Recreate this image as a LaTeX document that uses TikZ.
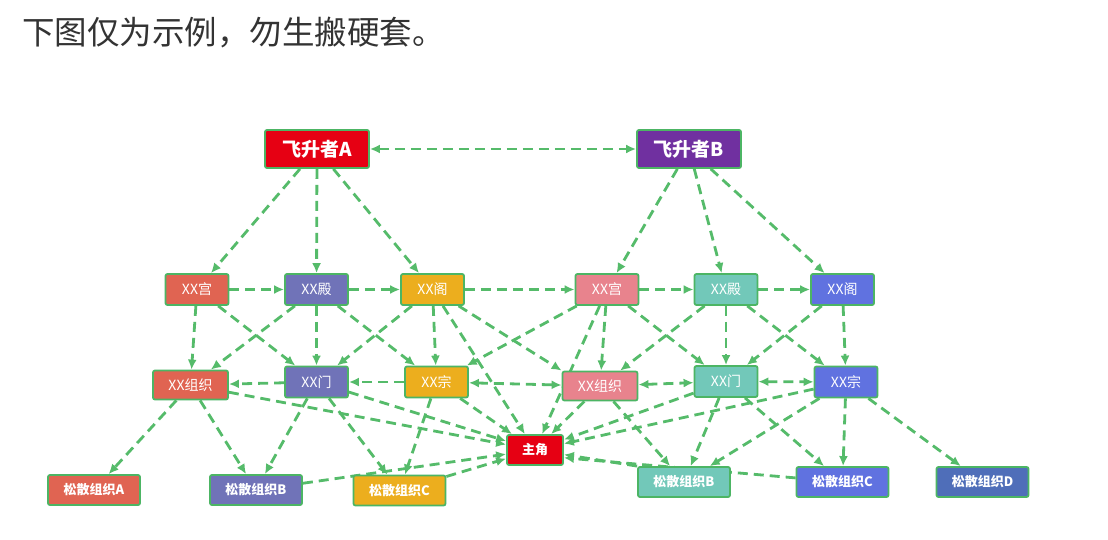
\documentclass[tikz,border=0pt]{standalone}
\usepackage{fontspec}
\setmainfont{Noto Sans CJK SC}
\usetikzlibrary{arrows.meta,backgrounds}

\definecolor{edgegreen}{HTML}{55BB6A}
\definecolor{rimgreen}{HTML}{4CB564}
\definecolor{ascred}{HTML}{E60013}
\definecolor{ascpurple}{HTML}{7030A0}
\definecolor{sectsalmon}{HTML}{E06452}
\definecolor{sectslate}{HTML}{7073B8}
\definecolor{sectamber}{HTML}{ECAE1E}
\definecolor{sectpink}{HTML}{E8838D}
\definecolor{sectteal}{HTML}{72C8B9}
\definecolor{sectblue}{HTML}{6072E0}
\definecolor{loosenavy}{HTML}{4F6EB9}
\definecolor{titlegray}{HTML}{333333}

\begin{document}
\begin{tikzpicture}[>={Latex[length=10pt,width=9pt]},x=1pt,y=-1pt,
                    link/.style={draw=edgegreen,line width=2.8pt,dash pattern=on 10pt off 6pt,->},
                    base node/.style={rectangle,draw=rimgreen,line width=1.8pt,rounded corners=2pt,text=white,inner sep=0pt},
                    top node/.style={base node,minimum width=104pt,minimum height=38pt,font=\fontsize{19}{22}\selectfont\bfseries},
                    sect node/.style={base node,minimum width=63pt,minimum height=31pt,font=\fontsize{14}{16}\selectfont},
                    org node/.style={base node,minimum width=75pt,minimum height=29pt,font=\fontsize{14}{16}\selectfont},
                    hero node/.style={base node,minimum width=56pt,minimum height=30pt,font=\fontsize{13}{15}\selectfont\bfseries},
                    loose node/.style={base node,minimum width=92pt,minimum height=30pt,font=\fontsize{13}{15}\selectfont\bfseries}]
      \useasboundingbox (0,0) rectangle (1108,540);
      \node[anchor=west,inner sep=0pt,text=titlegray,font=\fontsize{32.5}{38}\selectfont] (title) at (22,33) {下图仅为示例，勿生搬硬套。};
      % ascenders
      \node[top node, fill=ascred] (1) at (317,149) {飞升者A};
      \node[top node, fill=ascpurple] (2) at (689,149) {飞升者B};
      % upper sects
      \node[sect node, fill=sectsalmon] (3) at (197,289.5) {XX宫};
      \node[sect node, fill=sectslate] (4) at (316.5,289.5) {XX殿};
      \node[sect node, fill=sectamber] (5) at (432.5,289.5) {XX阁};
      \node[sect node, fill=sectpink] (6) at (607,289.5) {XX宫};
      \node[sect node, fill=sectteal] (7) at (726,289.5) {XX殿};
      \node[sect node, fill=sectblue] (8) at (842.5,289.5) {XX阁};
      % lower sects
      \node[org node, fill=sectsalmon] (9) at (190.5,385) {XX组织};
      \node[sect node, fill=sectslate] (10) at (316.5,382) {XX门};
      \node[sect node, fill=sectamber] (11) at (436.5,382) {XX宗};
      \node[org node, fill=sectpink] (12) at (600,386) {XX组织};
      \node[sect node, fill=sectteal] (13) at (726,381.5) {XX门};
      \node[sect node, fill=sectblue] (14) at (846,382) {XX宗};
      \node[hero node, fill=ascred] (15) at (535,450) {主角};
      % loose groups
      \node[loose node, fill=sectsalmon] (16) at (94,490) {松散组织A};
      \node[loose node, fill=sectslate] (17) at (256,490) {松散组织B};
      \node[loose node, fill=sectamber] (18) at (399.5,490.5) {松散组织C};
      \node[loose node, fill=sectteal] (19) at (684,482) {松散组织B};
      \node[loose node, fill=sectblue] (20) at (842.5,482) {松散组织C};
      \node[loose node, fill=loosenavy] (21) at (982.5,482) {松散组织D};
      \begin{pgfonlayer}{background}
      \fill[white] (0,0) rectangle (1108,540);
      \path[every edge/.style=link]
        (1) edge [<->] (2)
            edge (3) edge (4) edge (5)
        (2) edge (6) edge (7) edge (8)
        (3) edge (4) edge (9) edge (10)
        (4) edge (5) edge (9) edge (10) edge (11)
        (5) edge (6) edge (10) edge (11) edge (15) edge (12.north west)
        (6) edge (7) edge (11) edge (12) edge (13) edge (15)
        (7) edge (8) edge (12) edge (13) edge (14)
        (8) edge (13) edge (14)
        (9) edge (15) edge (16) edge (17)
        (10) edge (9) edge (15) edge (17) edge (18)
        (11) edge (10) edge [<->] (12) edge (15) edge (18)
        (12) edge [<->] (13) edge (15) edge (19)
        (13) edge [<->] (14) edge (15) edge (19) edge (20)
        (14) edge (15) edge (19) edge (20) edge (21)
        (17) edge (15)
        (18) edge (15)
        (19.north west) edge (15)
        (20) edge (15.-15);
      \end{pgfonlayer}
\end{tikzpicture}
\end{document}
